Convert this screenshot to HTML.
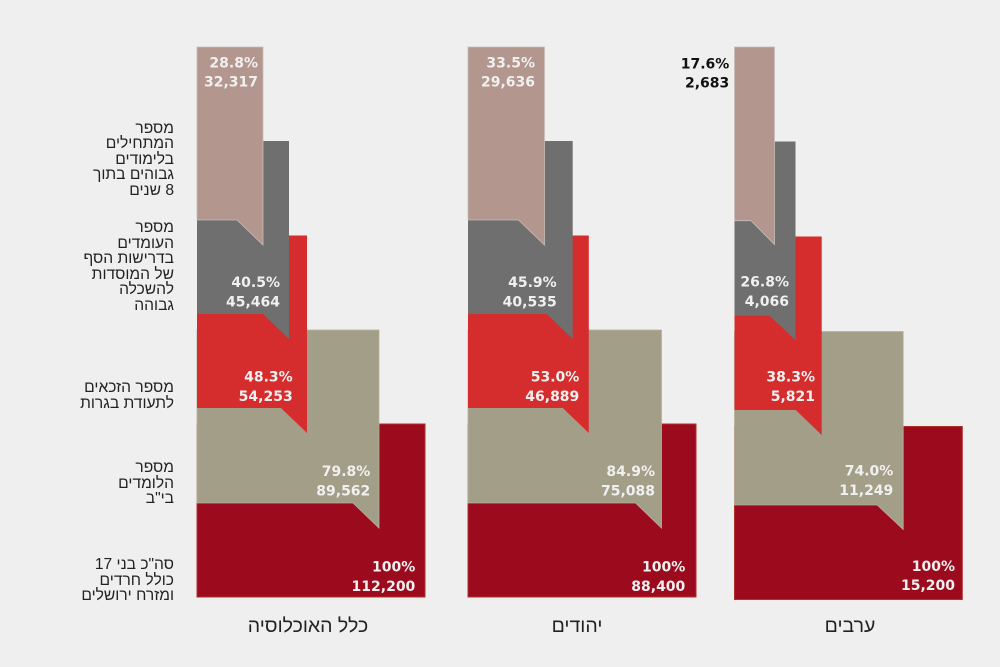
<!DOCTYPE html>
<html>
<head>
<meta charset="utf-8">
<style>
  html, body { margin:0; padding:0; }
  body { width:1000px; height:667px; background:#efefef; position:relative; overflow:hidden; }
  svg { position:absolute; left:0; top:0; }
  .lbl { position:absolute; right:826px; direction:rtl; text-align:right; font-family:"Liberation Sans","DejaVu Sans",sans-serif; font-size:15.6px; line-height:15.5px; color:#222; white-space:nowrap; }
  .bot { position:absolute; top:616px; width:200px; direction:rtl; text-align:center; font-family:"Liberation Sans","DejaVu Sans",sans-serif; font-size:19.5px; line-height:21px; color:#222; white-space:nowrap; }
  .n { font-family:"DejaVu Sans","Liberation Sans",sans-serif; font-weight:bold; font-size:14px; fill:#f0f0f0; }
  .k { fill:#111; }
</style>
</head>
<body>
<svg width="1000" height="667" viewBox="0 0 1000 667" xmlns="http://www.w3.org/2000/svg">
  <!-- Group 1 -->
  <g>
    <rect x="197" y="424" width="228" height="173" fill="#9b0a1d" stroke="#b0302e" stroke-width="1"/>
    <polygon points="197,330 379,330 379,528 353,503 197,503" fill="#a29e87" stroke="#b4b1a0" stroke-width="0.8"/>
    <polygon points="197,235.5 307,235.5 307,433 281,408 197,408" fill="#d52d2d"/>
    <polygon points="197,141 289,141 289,339 263,314 197,314" fill="#6f6f6f"/>
    <polygon points="197,47 263,47 263,245 237,220 197,220" fill="#b3978e" stroke="#c7bdb8" stroke-width="0.8"/>
  </g>
  <!-- Group 2 -->
  <g>
    <rect x="468" y="424" width="228" height="173" fill="#9b0a1d" stroke="#b0302e" stroke-width="1"/>
    <polygon points="468,330 661.5,330 661.5,528 635.5,503 468,503" fill="#a29e87" stroke="#b4b1a0" stroke-width="0.8"/>
    <polygon points="468,235.5 588.8,235.5 588.8,433 562.8,408 468,408" fill="#d52d2d"/>
    <polygon points="468,141 572.7,141 572.7,339 546.7,314 468,314" fill="#6f6f6f"/>
    <polygon points="468,47 544.5,47 544.5,245 518.5,220 468,220" fill="#b3978e" stroke="#c7bdb8" stroke-width="0.8"/>
  </g>
  <!-- Group 3 -->
  <g>
    <rect x="734.5" y="426.5" width="227.8" height="173" fill="#9b0a1d" stroke="#b0302e" stroke-width="1"/>
    <polygon points="734.5,331.5 903.2,331.5 903.2,529.5 877.2,505 734.5,505" fill="#a29e87" stroke="#b4b1a0" stroke-width="0.8"/>
    <polygon points="734.5,236.5 821.7,236.5 821.7,435 795.7,410 734.5,410" fill="#d52d2d"/>
    <polygon points="734.5,141.5 795.5,141.5 795.5,340 769.5,315.7 734.5,315.7" fill="#6f6f6f"/>
    <polygon points="734.5,47 774.5,47 774.5,244.5 751,220.7 734.5,220.7" fill="#b3978e" stroke="#c7bdb8" stroke-width="0.8"/>
  </g>

  <!-- Numbers group 1 -->
  <g class="n" text-anchor="end">
    <text x="258" y="67.7">28.8%</text><text x="258" y="86.7">32,317</text>
    <text x="280" y="287">40.5%</text><text x="280" y="306.7">45,464</text>
    <text x="292.7" y="381.7">48.3%</text><text x="292.7" y="401">54,253</text>
    <text x="370.3" y="476">79.8%</text><text x="370.3" y="495.7">89,562</text>
    <text x="415.3" y="571.7">100%</text><text x="415.3" y="591">112,200</text>
  </g>
  <!-- Numbers group 2 -->
  <g class="n" text-anchor="end">
    <text x="535" y="67.7">33.5%</text><text x="535" y="86.7">29,636</text>
    <text x="556.7" y="287">45.9%</text><text x="556.7" y="306.7">40,535</text>
    <text x="579.3" y="381.7">53.0%</text><text x="579.3" y="401">46,889</text>
    <text x="655" y="476">84.9%</text><text x="655" y="495.7">75,088</text>
    <text x="685.3" y="571.7">100%</text><text x="685.3" y="591">88,400</text>
  </g>
  <!-- Numbers group 3 -->
  <g class="n" text-anchor="end">
    <text class="k" x="729.3" y="68.3">17.6%</text><text class="k" x="729.3" y="87.7">2,683</text>
    <text x="789" y="286.7">26.8%</text><text x="789" y="306">4,066</text>
    <text x="815" y="381.7">38.3%</text><text x="815" y="401">5,821</text>
    <text x="893.3" y="475.7">74.0%</text><text x="893.3" y="495">11,249</text>
    <text x="955" y="571">100%</text><text x="955" y="590">15,200</text>
  </g>
</svg>

<div class="lbl" style="top:120.5px;">מספר<br>המתחילים<br>בלימודים<br>גבוהים בתוך<br>8 שנים</div>
<div class="lbl" style="top:220px;">מספר<br>העומדים<br>בדרישות הסף<br>של המוסדות<br>להשכלה<br>גבוהה</div>
<div class="lbl" style="top:380px;">מספר הזכאים<br>לתעודת בגרות</div>
<div class="lbl" style="top:460px;">מספר<br>הלומדים<br>בי"ב</div>
<div class="lbl" style="top:557px;">סה"כ בני 17<br>כולל חרדים<br>ומזרח ירושלים</div>

<div class="bot" style="left:208px;">כלל האוכלוסיה</div>
<div class="bot" style="left:477px;">יהודים</div>
<div class="bot" style="left:750px;">ערבים</div>
</body>
</html>
